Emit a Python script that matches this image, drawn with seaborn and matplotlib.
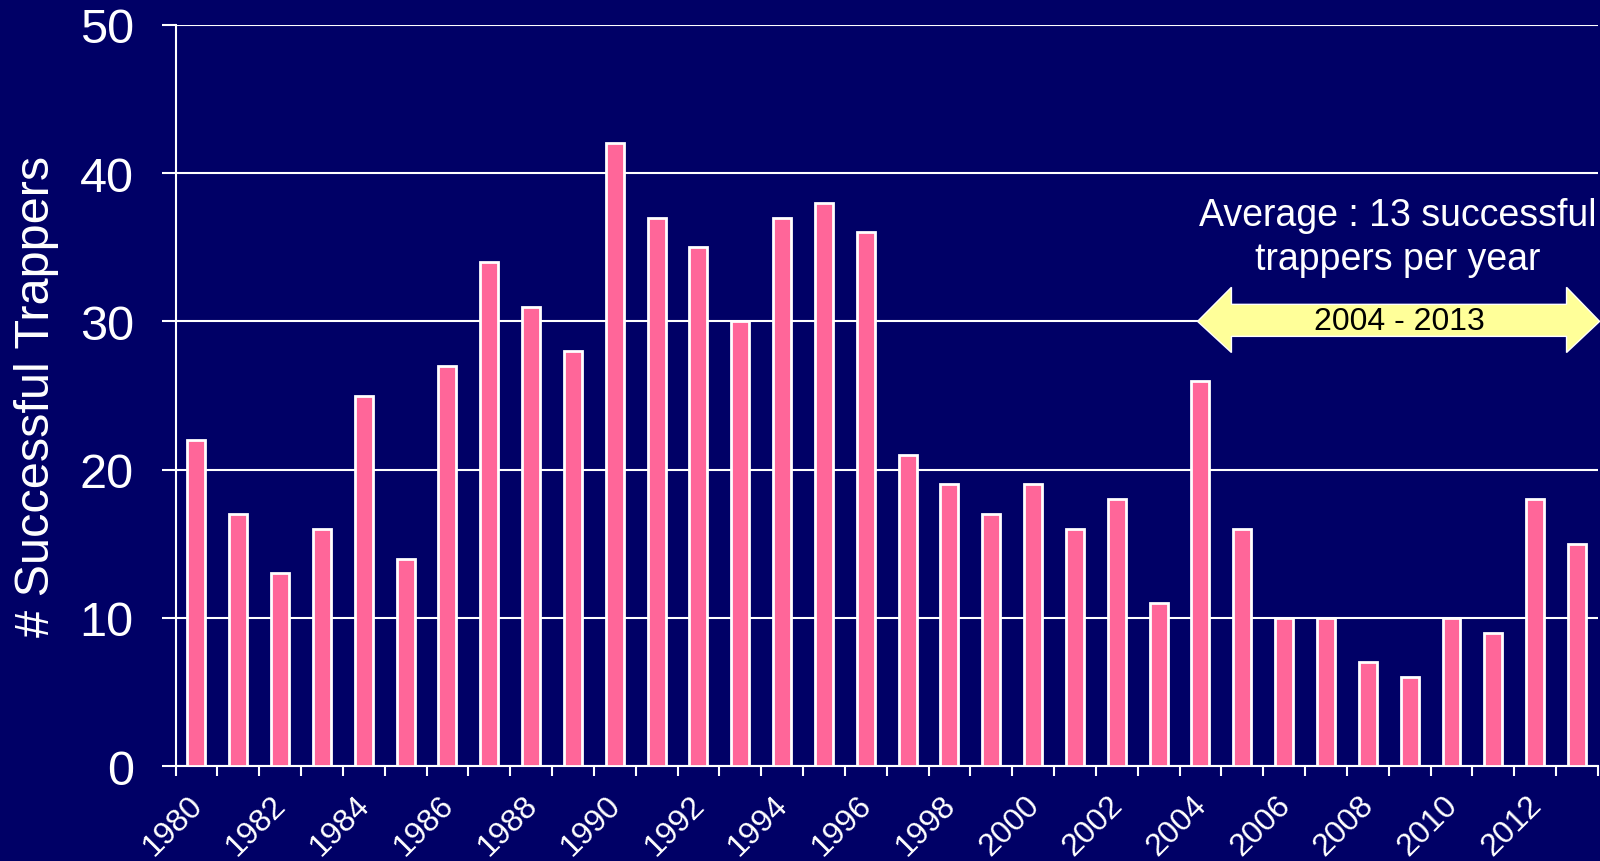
import matplotlib
matplotlib.use("Agg")
import matplotlib.pyplot as plt
import matplotlib.transforms as mtransforms
import seaborn as sns
import pandas as pd
from matplotlib.patches import Polygon

# Data
years = list(range(1980, 2014))
trappers = [22, 17, 13, 16, 25, 14, 27, 34, 31, 28, 42, 37, 35, 30, 37, 38, 36,
            21, 19, 17, 19, 16, 18, 11, 26, 16, 10, 10, 7, 6, 10, 9, 18, 15]
y_ticks = [0, 10, 20, 30, 40, 50]
avg_text = "Average : 13 successful\ntrappers per year"
range_text = "2004 - 2013"

bg = "#000066"
pink = "#FF6699"

sns.set_style("white")
plt.rcParams['font.family'] = ['Liberation Sans', 'DejaVu Sans']

df = pd.DataFrame({"year": [str(y) for y in years], "count": trappers})

fig = plt.figure(figsize=(16, 8.62), dpi=100, facecolor=bg)
ax = fig.add_axes([0.1097, 0.110, 0.889, 0.860])
ax.set_facecolor(bg)

sns.barplot(data=df, x="year", y="count", color=pink, saturation=1,
            edgecolor="white", linewidth=2, width=0.43, ax=ax, zorder=3)

ax.set_xlim(-0.5, len(years) - 0.5)
ax.set_ylim(0, 50)
ax.set_yticks(y_ticks)
ax.yaxis.grid(True, color="white", linewidth=1.5, zorder=0)
ax.set_axisbelow(True)

# x ticks: labels every other year, tick marks at category boundaries
ax.set_xticks(range(0, len(years), 2))
ax.set_xticklabels([str(y) for y in years[::2]], rotation=45, ha="right",
                   va="top", rotation_mode="anchor", fontsize=23, color="white")
ax.set_xticks([i - 0.5 for i in range(len(years) + 1)], minor=True)
ax.tick_params(axis="x", which="major", bottom=True, length=0, pad=17)
ax.tick_params(axis="x", which="minor", bottom=True, length=7, width=1.5,
               color="white", direction="out")
ax.tick_params(axis="y", left=True, length=10, width=1.5, color="white",
               direction="out", pad=20, labelsize=35, labelcolor="white")

# nudge year labels a little to the left (after tick_params, which resets them)
shift = mtransforms.ScaledTranslation(-9 / 100, 0, fig.dpi_scale_trans)
for lab in ax.get_xticklabels():
    lab.set_transform(lab.get_transform() + shift)

for side in ["top", "right"]:
    ax.spines[side].set_visible(False)
for side in ["left", "bottom"]:
    ax.spines[side].set_color("white")
    ax.spines[side].set_linewidth(1.5)

ax.set_xlabel("")
ax.set_ylabel("# Successful Trappers", fontsize=35, color="white")
ax.yaxis.set_label_coords(-0.082, 0.5)

# annotation
ax.text(28.71, 35.7, avg_text, ha="center", va="center", fontsize=27,
        color="white", linespacing=1.3, zorder=5)

arrow = Polygon([(23.93, 30.0), (24.74, 32.3), (24.74, 31.15), (32.75, 31.15),
                 (32.75, 32.3), (33.54, 30.0), (32.75, 27.9), (32.75, 28.99),
                 (24.74, 28.99), (24.74, 27.9)],
                closed=True, facecolor="#FFFF99", edgecolor="white",
                linewidth=1, zorder=4, clip_on=False)
ax.add_patch(arrow)
ax.text(28.75, 30.0, range_text, ha="center", va="center", fontsize=23,
        color="black", zorder=5)

fig.savefig("out.png", dpi=100, facecolor=bg)
